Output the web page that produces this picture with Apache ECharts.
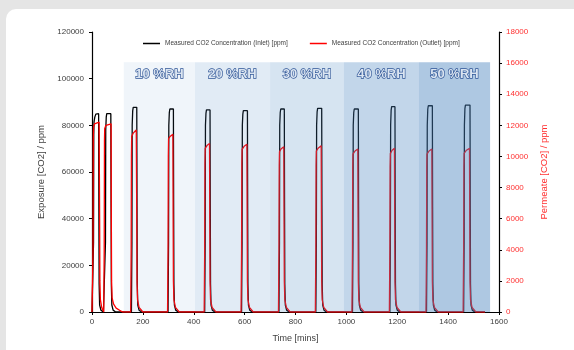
<!DOCTYPE html>
<html>
<head>
<meta charset="utf-8">
<script src="https://cdn.jsdelivr.net/npm/echarts@6/dist/echarts.min.js"></script>
<style>
html,body{margin:0;padding:0;background:#e5e5e5;width:574px;height:350px;overflow:hidden;}
#card{position:absolute;left:6px;top:9px;width:620px;height:400px;background:#fff;border-radius:10px;}
#chart{position:absolute;left:0;top:0;width:574px;height:350px;}
</style>
</head>
<body>
<div id="card"></div>
<div id="chart"></div>
<script>
// Time ticks
var xTicks = [0, 200, 400, 600, 800, 1000, 1200, 1400, 1600];
var seriesNames = ['Measured CO2 Concentration (Inlet) [ppm]', 'Measured CO2 Concentration (Outlet) [ppm]'];

// Inlet CO2 (left axis, ppm) as [time, value]
var inletData = [
  [0,0],[4,0],[6,30000],[7,76000],[8,81500],[11,83500],[15,84800],[26,85000],[27,45000],[28,12000],[30,3000],[35,800],[45,0],
  [51,0],[53,30000],[54,78000],[56,83500],[58,85000],[74,85000],[75,45000],[76,12000],[78,3000],[83,800],[93,0],
  [155,0],[157,30000],[158,80000],[160,86200],[162,87700],[176,87700],[177,45000],[178,12000],[180,3000],[185,800],[195,0],
  [299,0],[301,30000],[302,80000],[304,85500],[306,87000],[320,87000],[321,45000],[322,12000],[324,3000],[329,800],[339,0],
  [443,0],[445,30000],[446,80000],[448,85100],[450,86600],[464,86600],[465,45000],[466,12000],[468,3000],[473,800],[483,0],
  [588,0],[590,30000],[591,80000],[593,84800],[595,86300],[611,86300],[612,45000],[613,12000],[615,3000],[620,800],[630,0],
  [735,0],[737,30000],[738,80000],[740,85500],[742,87000],[756,87000],[757,45000],[758,12000],[760,3000],[765,800],[775,0],
  [880,0],[882,30000],[883,80000],[885,85800],[887,87300],[903,87300],[904,45000],[905,12000],[907,3000],[912,800],[922,0],
  [1024,0],[1026,30000],[1027,80000],[1029,85500],[1031,87000],[1047,87000],[1048,45000],[1049,12000],[1051,3000],[1056,800],[1066,0],
  [1171,0],[1173,30000],[1174,80000],[1176,86500],[1178,88000],[1191,88000],[1192,45000],[1193,12000],[1195,3000],[1200,800],[1210,0],
  [1315,0],[1317,30000],[1318,80000],[1320,86900],[1322,88400],[1338,88400],[1339,45000],[1340,12000],[1342,3000],[1347,800],[1357,0],
  [1461,0],[1463,30000],[1464,80000],[1466,87200],[1468,88700],[1486,88700],[1487,45000],[1488,12000],[1490,3000],[1495,800],[1505,0],[1545,0]
];

// Outlet (permeate) CO2 (right axis, ppm) as [time, value]
var outletData = [
  [0,0],[2,0],[4,4000],[5,11000],[6,11900],[10,12100],[28,12200],[29,12200],[30,6000],[31,2000],[33,800],[38,300],[46,0],
  [46,0],[48,4000],[49,11000],[50,11800],[55,12000],[75,12100],[76,6000],[77,2000],[79,900],[85,500],[95,250],[110,100],[120,0],
  [152,0],[154,4000],[155,10000],[156,11300],[162,11500],[174,11700],[175,11700],[176,6000],[177,2000],[179,800],[185,300],[200,0],
  [297,0],[299,4000],[300,10000],[301,11150],[308,11300],[318,11420],[319,6000],[320,2000],[322,800],[328,300],[343,0],
  [441,0],[443,4000],[444,9500],[445,10520],[452,10700],[462,10840],[463,6000],[464,2000],[466,800],[472,300],[487,0],
  [586,0],[588,4000],[589,9500],[590,10450],[598,10650],[609,10780],[610,6000],[611,2000],[613,800],[619,300],[634,0],
  [733,0],[735,4000],[736,9400],[737,10300],[744,10500],[754,10630],[755,6000],[756,2000],[758,800],[764,300],[779,0],
  [878,0],[880,4000],[881,9400],[882,10350],[890,10550],[901,10690],[902,6000],[903,2000],[905,800],[911,300],[926,0],
  [1022,0],[1024,4000],[1025,9300],[1026,10150],[1034,10350],[1045,10480],[1046,6000],[1047,2000],[1049,800],[1055,300],[1070,0],
  [1169,0],[1171,4000],[1172,9300],[1173,10200],[1180,10400],[1189,10520],[1190,6000],[1191,2000],[1193,800],[1199,300],[1214,0],
  [1313,0],[1315,4000],[1316,9300],[1317,10150],[1325,10350],[1336,10480],[1337,6000],[1338,2000],[1340,800],[1346,300],[1361,0],
  [1459,0],[1461,4000],[1462,9300],[1463,10200],[1472,10400],[1484,10520],[1485,6000],[1486,2000],[1488,800],[1494,300],[1509,0],[1545,0]
];

// Humidity bands (time ranges)
var bandLabels = ['10 %RH', '20 %RH', '30 %RH', '40 %RH', '50 %RH'];
var bandStart = [125, 405, 700, 990, 1285];
var bandEnd   = [405, 700, 990, 1285, 1565];
var bandTop = 107000;
var bandAlpha = [0.08, 0.16, 0.22, 0.33, 0.44];

var font = 'Liberation Sans, Arial, sans-serif';

var bandAreas = bandLabels.map(function (lab, i) {
  return [
    { xAxis: bandStart[i], yAxis: 0, name: lab,
      itemStyle: { color: 'rgba(70,130,190,' + bandAlpha[i] + ')' } },
    { xAxis: bandEnd[i], yAxis: bandTop }
  ];
});

var plain = function (v) { return String(v); };

var chart = echarts.init(document.getElementById('chart'), null, { renderer: 'canvas' });
chart.setOption({
  animation: false,
  backgroundColor: 'transparent',
  grid: { left: 92, right: 75, top: 32, bottom: 38 },
  legend: {
    data: seriesNames,
    left: 143, top: 40, padding: 0,
    icon: 'rect', itemWidth: 17, itemHeight: 1.5, itemGap: 22,
    textStyle: { fontFamily: font, fontSize: 6.5, color: '#404040' }
  },
  xAxis: {
    type: 'value', min: 0, max: 1600, interval: 200,
    name: 'Time [mins]', nameLocation: 'middle', nameGap: 22,
    nameTextStyle: { fontFamily: font, fontSize: 9, color: '#404040' },
    axisLine: { lineStyle: { color: '#000', width: 1.2 } },
    axisTick: { show: true, length: 3, lineStyle: { color: '#000' } },
    axisLabel: { fontFamily: font, fontSize: 8, color: '#404040', margin: 6, formatter: plain },
    splitLine: { show: false }
  },
  yAxis: [
    {
      type: 'value', min: 0, max: 120000, interval: 20000, position: 'left',
      name: 'Exposure [CO2] / ppm', nameLocation: 'middle', nameGap: 38, nameRotate: 90,
      nameTextStyle: { fontFamily: font, fontSize: 9.5, color: '#404040' },
      axisLine: { show: true, lineStyle: { color: '#000', width: 1.2 } },
      axisTick: { show: true, length: 3, lineStyle: { color: '#000' } },
      axisLabel: { fontFamily: font, fontSize: 8, color: '#404040', margin: 8, formatter: plain },
      splitLine: { show: false }
    },
    {
      type: 'value', min: 0, max: 18000, interval: 2000, position: 'right',
      name: 'Permeate [CO2] / ppm', nameLocation: 'middle', nameGap: 32, nameRotate: 90,
      nameTextStyle: { fontFamily: font, fontSize: 9.5, color: '#ff3030' },
      axisLine: { show: true, lineStyle: { color: '#000', width: 1.2 } },
      axisTick: { show: true, length: 3, lineStyle: { color: '#000' } },
      axisLabel: { fontFamily: font, fontSize: 8, color: '#ff3030', margin: 7, formatter: plain },
      splitLine: { show: false }
    }
  ],
  series: [
    {
      name: seriesNames[0], type: 'line', yAxisIndex: 0, data: inletData,
      showSymbol: false, symbol: 'none', z: 2,
      lineStyle: { color: '#000', width: 1.3 }, itemStyle: { color: '#000' }
    },
    {
      name: seriesNames[1], type: 'line', yAxisIndex: 1, data: outletData,
      showSymbol: false, symbol: 'none', z: 3,
      lineStyle: { color: '#ff0000', width: 1.3 }, itemStyle: { color: '#ff0000' }
    },
    {
      name: 'bands', type: 'line', yAxisIndex: 0, data: [], z: 5, silent: true,
      markArea: {
        silent: true, z: 10,
        label: {
          show: true, position: 'insideTop', distance: 6,
          fontFamily: font, fontSize: 13, fontWeight: 'bold',
          color: '#dbe5f1', textBorderColor: '#2f5597', textBorderWidth: 1.3
        },
        data: bandAreas
      }
    }
  ]
});
</script>
</body>
</html>
